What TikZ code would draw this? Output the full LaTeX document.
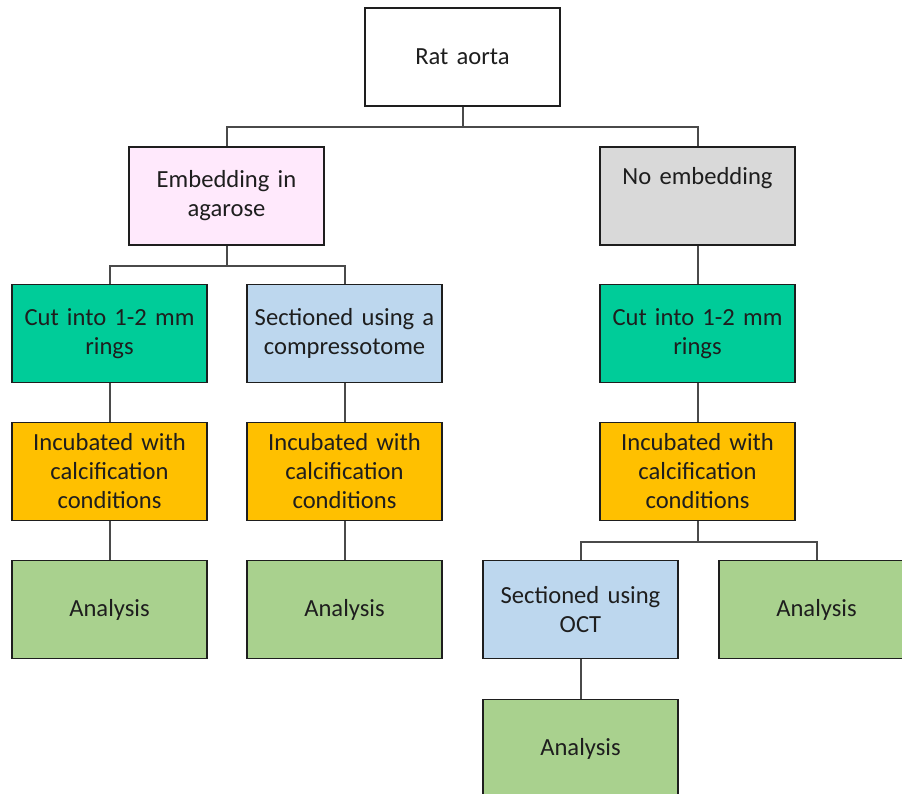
\documentclass[tikz,border=0pt]{standalone}
\usepackage{fontspec}
\setmainfont{Carlito}
\definecolor{pinkfill}{HTML}{FFE9FC}
\definecolor{grayfill}{HTML}{D9D9D9}
\definecolor{tealfill}{HTML}{00CC99}
\definecolor{bluefill}{HTML}{BDD7EE}
\definecolor{goldfill}{HTML}{FFC000}
\definecolor{greenfill}{HTML}{A9D18E}
\definecolor{inkcol}{HTML}{1E1E1E}
\definecolor{linkcol}{HTML}{4A4A4A}
\begin{document}
\begin{tikzpicture}[x=1pt,y=-1pt,
  stage/.style={draw=inkcol, line width=1.7pt, minimum width=195pt, minimum height=98pt,
    inner sep=0pt, align=center, text width=190pt, text=inkcol,
    font=\fontsize{24.6}{29}\selectfont},
  link/.style={draw=linkcol, line width=2pt}]
\useasboundingbox (0,0) rectangle (902,794);
\clip (0,0) rectangle (902,794);

% top level
\node[stage, fill=white] (rat) at (462.5,57) {Rat aorta};
\node[stage, fill=pinkfill] (emb) at (226.5,196) {Embedding in\\agarose};
\node[stage, fill=grayfill] (noemb) at (697.5,196) {No embedding\\[12pt]\mbox{}};

% first processing step
\node[stage, fill=tealfill] (cutA) at (109.5,333.5) {Cut into 1-2 mm\\rings};
\node[stage, fill=bluefill] (comp) at (344.5,333.5) {Sectioned using a\\compressotome};
\node[stage, fill=tealfill] (cutB) at (697.5,333.5) {Cut into 1-2 mm\\rings};

% incubation
\node[stage, fill=goldfill] (incA) at (109.5,471.5) {Incubated with\\calcification\\conditions};
\node[stage, fill=goldfill] (incB) at (344.5,471.5) {Incubated with\\calcification\\conditions};
\node[stage, fill=goldfill] (incC) at (697.5,471.5) {Incubated with\\calcification\\conditions};

% analysis
\node[stage, fill=greenfill] (anA) at (109.5,609.5) {Analysis};
\node[stage, fill=greenfill] (anB) at (344.5,609.5) {Analysis};
\node[stage, fill=bluefill] (oct) at (580.5,609.5) {Sectioned using\\OCT};
\node[stage, fill=greenfill] (anC) at (816.5,609.5) {Analysis};
\node[stage, fill=greenfill] (anD) at (580.5,748.5) {Analysis};

% connectors
\draw[link] (rat.south) -- ++(0,20) -| (emb.north);
\draw[link] (rat.south) -- ++(0,20) -| (noemb.north);
\draw[link] (emb.south) -- ++(0,20) -| (cutA.north);
\draw[link] (emb.south) -- ++(0,20) -| (comp.north);
\draw[link] (noemb.south) -- (cutB.north);
\draw[link] (cutA.south) -- (incA.north);
\draw[link] (comp.south) -- (incB.north);
\draw[link] (cutB.south) -- (incC.north);
\draw[link] (incA.south) -- (anA.north);
\draw[link] (incB.south) -- (anB.north);
\draw[link] (incC.south) -- ++(0,20.5) -| (oct.north);
\draw[link] (incC.south) -- ++(0,20.5) -| (anC.north);
\draw[link] (oct.south) -- (anD.north);
\end{tikzpicture}
\end{document}
